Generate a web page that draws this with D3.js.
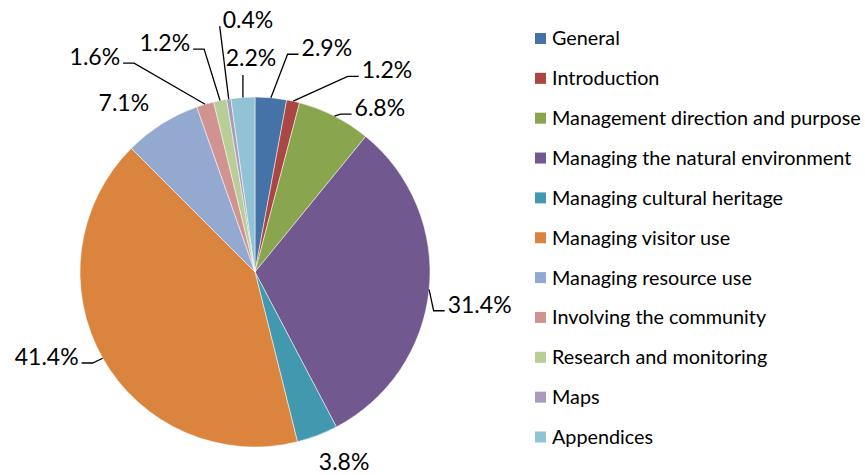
<!DOCTYPE html>
<meta charset="utf-8">
<style type="text/css">

body {
    margin: 0;
    background: #fff;
}

text {
    font-family: Lato, "Open Sans", sans-serif;
    fill: #000;
}

.slice {
    stroke: #fff;
    stroke-width: 0.5;
}

.leader {
    fill: none;
    stroke: #000;
    stroke-width: 1.3;
}

</style>
<body>
</body>

<script src="https://d3js.org/d3.v7.min.js"></script>
<script>

var categories = [
    "General",
    "Introduction",
    "Management direction and purpose",
    "Managing the natural environment",
    "Managing cultural heritage",
    "Managing visitor use",
    "Managing resource use",
    "Involving the community",
    "Research and monitoring",
    "Maps",
    "Appendices"
];

var shares = [2.9, 1.2, 6.8, 31.4, 3.8, 41.4, 7.1, 1.6, 1.2, 0.4, 2.2];

var palette = ["#4572a7", "#aa4643", "#89a54e", "#71588f", "#4198af", "#db843d",
               "#93a9cf", "#d19392", "#b9cd96", "#a99bbd", "#92c3d4"];

// where each data label sits: angle (deg, clockwise from 12 o'clock) and distance from centre
var labelAngles = [17.8, 33.2, 37.3, 98.3, 154.9, 247.8, 322.2, 323.3, 338.5, 358.4, 358.9];
var labelDists  = [235, 241, 206, 227, 210, 225, 214, 268, 246, 252, 214];
var leaderKinds = ["side", "side", "side", "side", "none", "side", "none", "side", "side", "side", "below"];

var width = 865
  , height = 475;

var cx = 255
  , cy = 272
  , radius = 175;

var svg = d3.select("body").append("svg")
    .attr("width", width)
    .attr("height", height);

var g = svg.append("g")
    .attr("transform", "translate(" + cx + "," + cy + ")");

var pie = d3.pie()
    .sort(null)
    .value(function(d) { return d; });

var arc = d3.arc()
    .innerRadius(0)
    .outerRadius(radius);

var arcs = pie(shares);

g.selectAll(".slice")
    .data(arcs)
  .enter().append("path")
    .attr("class", "slice")
    .attr("d", arc)
    .attr("fill", function(d, i) { return palette[i]; });

function polar(angle, dist) {
    return [dist * Math.sin(angle), -dist * Math.cos(angle)];
}

var labels = g.selectAll(".label")
    .data(arcs)
  .enter().append("text")
    .attr("class", "label")
    .attr("text-anchor", "middle")
    .attr("dy", "0.35em")
    .style("font-size", "23px")
    .attr("transform", function(d, i) {
        var p = polar(labelAngles[i] * Math.PI / 180, labelDists[i]);
        return "translate(" + p[0] + "," + p[1] + ")";
    })
    .text(function(d) { return d.value.toFixed(1) + "%"; });

// leader lines from slice edge to its label
labels.each(function(d, i) {
    if (leaderKinds[i] == "none") return;
    var bb = this.getBBox();
    var t = polar(labelAngles[i] * Math.PI / 180, labelDists[i]);
    var start = polar((d.startAngle + d.endAngle) / 2, radius);
    var pts = [start];
    if (leaderKinds[i] == "below") {
        pts.push([start[0], t[1] + bb.y + bb.height + 4]);
    } else {
        var right = t[0] > start[0];
        var ex = right ? t[0] + bb.x - 3 : t[0] + bb.x + bb.width + 3;
        var ey = t[1] + 6;
        var elbow = right ? ex - 11 : ex + 11;
        if (Math.abs(ex - start[0]) > 12) pts.push([elbow, ey]);
        pts.push([ex, ey]);
    }
    g.append("path")
        .attr("class", "leader")
        .attr("d", d3.line()(pts));
});

var legend = svg.append("g")
    .attr("transform", "translate(535,38.5)");

var rows = legend.selectAll(".row")
    .data(categories)
  .enter().append("g")
    .attr("class", "row")
    .attr("transform", function(d, i) { return "translate(0," + (i * 39.85) + ")"; });

rows.append("rect")
    .attr("x", 0)
    .attr("y", -5.5)
    .attr("width", 11)
    .attr("height", 11)
    .attr("fill", function(d, i) { return palette[i]; });

rows.append("text")
    .attr("x", 17)
    .attr("dy", "0.35em")
    .style("font-size", "19.8px")
    .text(function(d) { return d; });

</script>
